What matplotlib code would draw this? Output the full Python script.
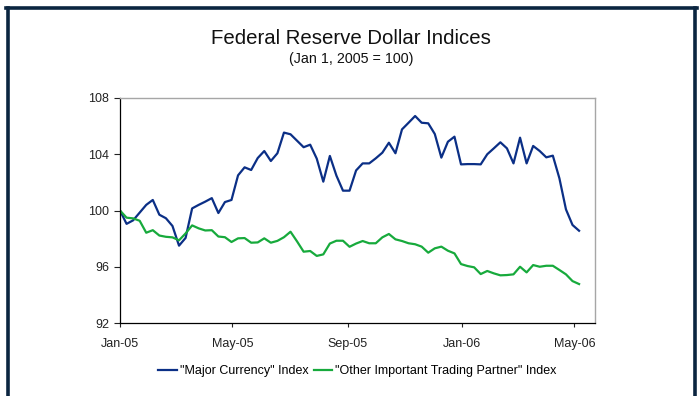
import matplotlib
matplotlib.use("Agg")
import matplotlib.pyplot as plt
import matplotlib.dates as mdates
from matplotlib.lines import Line2D
import pandas as pd

# weekly index readings, Jan 1 2005 = 100
start_date = "2005-01-01"
major_currency = [
    100.0, 99.05, 99.3, 99.85, 100.4, 100.75, 99.7, 99.45, 98.9, 97.5,
    98.05, 100.15, 100.4, 100.63, 100.88, 99.82, 100.6, 100.75, 102.5, 103.07,
    102.88, 103.73, 104.23, 103.52, 104.07, 105.54, 105.42, 104.96, 104.5, 104.68,
    103.69, 102.05, 103.88, 102.48, 101.41, 101.41, 102.85, 103.35, 103.35, 103.71,
    104.11, 104.82, 104.07, 105.77, 106.24, 106.72, 106.24, 106.2, 105.44, 103.76,
    104.89, 105.25, 103.28, 103.3, 103.3, 103.28, 104.0, 104.42, 104.85, 104.42,
    103.35, 105.18, 103.35, 104.59, 104.23, 103.78, 103.9, 102.29, 100.08, 98.97,
    98.56,
]
other_partners = [
    100.0, 99.49, 99.44, 99.27, 98.42, 98.6, 98.22, 98.13, 98.09, 97.88,
    98.37, 98.94, 98.73, 98.58, 98.6, 98.15, 98.1, 97.76, 98.02, 98.04,
    97.71, 97.73, 98.02, 97.71, 97.84, 98.1, 98.49, 97.8, 97.07, 97.12,
    96.77, 96.88, 97.65, 97.85, 97.85, 97.42, 97.65, 97.83, 97.67, 97.67,
    98.09, 98.33, 97.95, 97.83, 97.67, 97.6, 97.43, 97.0, 97.31, 97.43,
    97.14, 96.95, 96.19, 96.05, 95.96, 95.48, 95.7, 95.53, 95.39, 95.41,
    95.46, 96.0, 95.6, 96.12, 96.0, 96.07, 96.07, 95.77, 95.46, 94.98,
    94.77,
]
series_labels = ['"Major Currency" Index', '"Other Important Trading Partner" Index']
tick_dates = ["2005-01-01", "2005-05-01", "2005-09-01", "2006-01-01", "2006-05-01"]
y_ticks = [92, 96, 100, 104, 108]

BLUE = "#0b2f86"
GREEN = "#17aa3c"
FRAME = "#0b2540"

dates = pd.date_range(start_date, periods=len(major_currency), freq="7D")

plt.rcParams["font.family"] = ["Liberation Sans", "DejaVu Sans"]

fig = plt.figure(figsize=(6.99, 3.96), dpi=100)
ax = fig.add_axes([120 / 699, 1 - 323 / 396, 475 / 699, 225 / 396])

ax.plot(dates, major_currency, color=BLUE, lw=1.6, label=series_labels[0])
ax.plot(dates, other_partners, color=GREEN, lw=1.6, label=series_labels[1])

ax.set_ylim(92, 108)
ax.set_yticks(y_ticks)
ax.set_xlim(pd.Timestamp("2005-01-01"), pd.Timestamp("2006-05-23"))
ax.set_xticks(pd.to_datetime(tick_dates))
ax.xaxis.set_major_formatter(mdates.DateFormatter("%b-%y"))

for side in ("left", "bottom"):
    ax.spines[side].set_color("black")
    ax.spines[side].set_linewidth(0.9)
for side in ("top", "right"):
    ax.spines[side].set_color("#a6a6a6")
    ax.spines[side].set_linewidth(1.0)

ax.tick_params(axis="y", direction="out", length=4, width=0.8, pad=4, labelsize=9, colors="#222222")
ax.tick_params(axis="x", direction="out", length=3, width=0.8, pad=8, labelsize=9, colors="#222222")

fig.text(0.502, 0.904, "Federal Reserve Dollar Indices", ha="center", va="center",
         fontsize=14.7, color="#111111")
fig.text(0.502, 0.851, "(Jan 1, 2005 = 100)", ha="center", va="center",
         fontsize=10.3, color="#111111")

fig.legend(loc="center", bbox_to_anchor=(357.5 / 699, 1 - 371 / 396), ncol=2, frameon=False,
           fontsize=9, handlelength=1.45, handletextpad=0.25, columnspacing=0.45)

# dark frame round the panel (no bottom edge)
fig.add_artist(Line2D([7.5 / 699, 7.5 / 699], [0, 1 - 7.5 / 396], color=FRAME, lw=2.6))
fig.add_artist(Line2D([6 / 699, 697 / 699], [1 - 7.5 / 396, 1 - 7.5 / 396], color=FRAME, lw=2.6))
fig.add_artist(Line2D([694.5 / 699, 694.5 / 699], [0, 1 - 7.5 / 396], color=FRAME, lw=2.6))

fig.savefig("out.png", dpi=100)
